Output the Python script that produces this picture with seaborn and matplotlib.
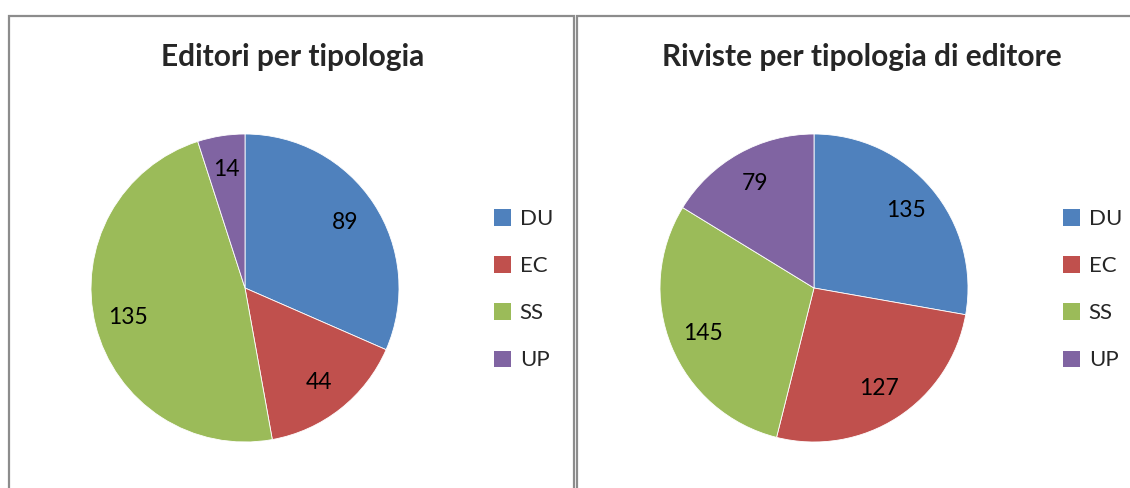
import matplotlib
matplotlib.use("Agg")
import matplotlib.pyplot as plt
from matplotlib.patches import Rectangle, Patch
import seaborn as sns

# data
categories = ["DU", "EC", "SS", "UP"]
editori = [89, 44, 135, 14]
riviste = [135, 127, 145, 79]
titles = ["Editori per tipologia", "Riviste per tipologia di editore"]

sns.set_theme(style="white")
plt.rcParams["font.family"] = ["Lato", "DejaVu Sans"]
palette = sns.color_palette(["#4F81BD", "#C0504D", "#9BBB59", "#8064A2"])

W, H = 1130, 488
fig = plt.figure(figsize=(W / 100, H / 100), dpi=100)

# panel borders (open at the bottom / right like the source)
for x0, x1 in [(9, 574), (577, 1140)]:
    fig.add_artist(Rectangle((x0 / W, -0.1), (x1 - x0) / W, (H - 16) / H + 0.1,
                             transform=fig.transFigure, fill=False,
                             edgecolor="#8c8c8c", lw=1.6))

centers = [245, 814]
title_x = [293, 862]
r = 154
for cx, tx, vals, title in zip(centers, title_x, [editori, riviste], titles):
    ax = fig.add_axes([(cx - r) / W, (H - 288 - r) / H, 2 * r / W, 2 * r / H])
    wedges, texts = ax.pie(vals, labels=[str(v) for v in vals], colors=palette,
                           startangle=90, counterclock=False, radius=1,
                           labeldistance=0.78,
                           wedgeprops=dict(linewidth=0.6, edgecolor="white"),
                           textprops=dict(fontsize=16.5, color="black"))
    for t in texts:
        t.set_horizontalalignment("center")
    ax.set_xlim(-1, 1)
    ax.set_ylim(-1, 1)
    ax.set_aspect("equal")
    fig.text(tx / W, 1 - 57 / H, title, ha="center", va="center",
             fontsize=21.5, fontweight="bold")
    handles = [Patch(facecolor=c, edgecolor="none") for c in palette]
    fig.legend(handles, categories, loc="upper left",
               bbox_to_anchor=((cx + 238) / W, 1 - 198 / H),
               frameon=False, fontsize=16, handlelength=0.75, handleheight=0.75,
               handletextpad=0.4, labelspacing=1.22, borderpad=0)

fig.savefig("out.png", dpi=100)
